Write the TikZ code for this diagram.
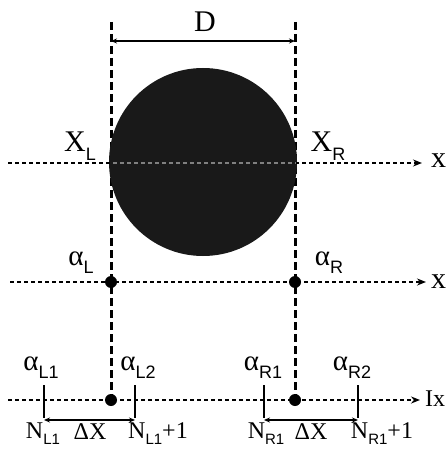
\documentclass[tikz,border=0pt]{standalone}
\usepackage{fontspec}
\setmainfont{Liberation Serif}
\newfontfamily\subsf{Liberation Sans}
\usetikzlibrary{arrows.meta}
\newcommand{\sbs}[1]{\raisebox{-0.28em}{\fontsize{18}{18}\selectfont\subsf #1}}
\newcommand{\sbsm}[1]{\raisebox{-0.25em}{\fontsize{15}{15}\selectfont\subsf #1}}
\begin{document}
\begin{tikzpicture}[x=1pt,y=-1pt,
 vline/.style={line width=3pt, dash pattern=on 8pt off 4pt},
 axis/.style={line width=1.6pt, dash pattern=on 4pt off 3pt, -{Stealth[length=9pt,width=7pt]}},
 big/.style={font=\fontsize{30}{30}\selectfont, inner sep=0pt},
 mid/.style={font=\fontsize{29}{29}\selectfont, inner sep=0pt},
 small/.style={font=\fontsize{24}{24}\selectfont, inner sep=0pt},
 dot/.style={circle, fill=black, inner sep=0pt, minimum size=12pt},
 bar/.style={line width=2.2pt},
 dim/.style={line width=1.7pt, {Stealth[length=6pt,width=5pt]}-{Stealth[length=6pt,width=5pt]}}]
\useasboundingbox (0,0) rectangle (446,454);

% coordinates
\coordinate (LT) at (111,22);
\coordinate (RT) at (295,22);
\coordinate (a1s) at (8,163);  \coordinate (a1e) at (422,163);
\coordinate (a2s) at (10,282); \coordinate (a2e) at (426,282);
\coordinate (a3s) at (8,400);  \coordinate (a3e) at (420,400);

% dots
\node[dot] (dL2) at (111,282) {};
\node[dot] (dR2) at (295,282) {};
\node[dot] (dL3) at (111,400) {};
\node[dot] (dR3) at (295,400) {};

% vertical dashed lines
\draw[vline] (LT) -- (dL3.center);
\draw[vline] (RT) -- (dR3.center);

% ball
\node[circle, fill=black!90, minimum size=188pt, inner sep=0pt] (ball) at (203,162) {};

% axes
\draw[axis] (a1s) -- (a1e);
\begin{scope}
 \clip (203,162) circle (93pt);
 \draw[line width=1.6pt, dash pattern=on 4pt off 3pt, black!50] (a1s) -- (a1e);
\end{scope}
\draw[axis] (a2s) -- (a2e);
\draw[axis] (a3s) -- (a3e);
\node[big, anchor=west] (x1) at (431,161) {x};
\node[big, anchor=west] (x2) at (431,282) {x};
\node[small, anchor=west] (ix) at (425,399) {Ix};

% D dimension
\draw[dim] (LT |- 0,41) -- (RT |- 0,41);
\coordinate (Dm) at (205,22);
\node[big] (D) at (Dm) {D};

% labels
\node[big] (XL) at (80,146) {X\sbs{L}};
\node[big] (XR) at (328,146) {X\sbs{R}};
\node[mid] (aL) at (81,263) {α\sbs{L}};
\node[mid] (aR) at (329,263) {α\sbs{R}};

% bars
\coordinate (bL1t) at (44,385);  \coordinate (bL1b) at (44,418);
\coordinate (bL2t) at (135,385); \coordinate (bL2b) at (135,418);
\coordinate (bR1t) at (264,385); \coordinate (bR1b) at (264,418);
\coordinate (bR2t) at (358,385); \coordinate (bR2b) at (358,418);
\draw[bar] (bL1t) -- (bL1b);
\draw[bar] (bL2t) -- (bL2b);
\draw[bar] (bR1t) -- (bR1b);
\draw[bar] (bR2t) -- (bR2b);
\draw[dim] ([yshift=-2pt]bL1b) -- ([yshift=-2pt]bL2b);
\draw[dim] ([yshift=-2pt]bR1b) -- ([yshift=-2pt]bR2b);

\node[mid] (aL1) at (41,368) {α\sbs{L1}};
\node[mid] (aL2) at (138,368) {α\sbs{L2}};
\node[mid] (aR1) at (263,368) {α\sbs{R1}};
\node[mid] (aR2) at (352,368) {α\sbs{R2}};

\node[small] (NL1) at (43,434) {N\sbsm{L1}};
\node[small] (dxL) at (90,432) {ΔX};
\node[small] (NL1p) at (158,434) {N\sbsm{L1}+1};
\node[small] (NR1) at (266,434) {N\sbsm{R1}};
\node[small] (dxR) at (311,432) {ΔX};
\node[small] (NR1p) at (382,434) {N\sbsm{R1}+1};
\end{tikzpicture}
\end{document}
